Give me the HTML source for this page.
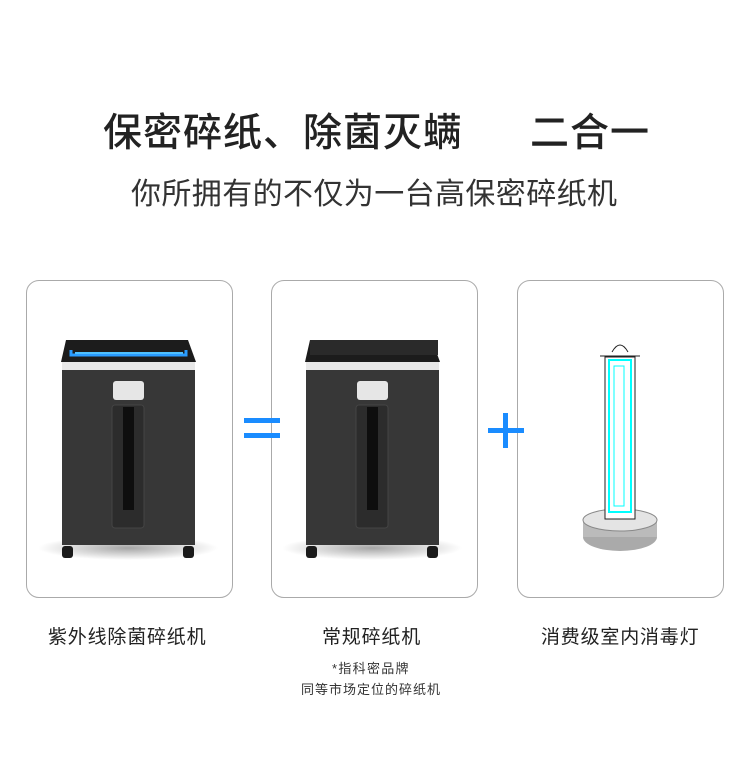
<!DOCTYPE html>
<html><head><meta charset="utf-8"><style>
body{margin:0;width:750px;height:768px;background:#fff;position:relative;font-family:"Liberation Sans","Noto Sans CJK SC",sans-serif;color:#222;overflow:hidden}
.a{position:absolute}
.card{position:absolute;top:280px;width:207px;height:318px;border:1px solid #aaa;border-radius:13px;box-sizing:border-box}
.t{position:absolute;white-space:nowrap}
.l{font-size:19px;letter-spacing:0.8px}
</style></head><body>
<div class="t" style="left:103px;top:102px;font-size:39px;font-weight:500;letter-spacing:1px">保密碎纸、除菌灭螨</div>
<div class="t" style="left:530px;top:102px;font-size:39px;font-weight:500;letter-spacing:1px">二合一</div>
<div class="t" style="left:131px;top:169px;font-size:30px;color:#333;letter-spacing:0.4px">你所拥有的不仅为一台高保密碎纸机</div>

<div class="card" style="left:26px"></div>
<div class="card" style="left:271px"></div>
<div class="card" style="left:517px"></div>

<svg class="a" style="left:0;top:0" width="750" height="768">
<defs><radialGradient id="sh" cx="50%" cy="50%" r="50%"><stop offset="0" stop-color="#000" stop-opacity=".35"/><stop offset="1" stop-color="#000" stop-opacity="0"/></radialGradient></defs>
<g id="s1">
<ellipse cx="128" cy="548" rx="90" ry="12" fill="url(#sh)"/>
<polygon points="66,340 188,340 196,362 61,362" fill="#1c1c1c"/>
<rect x="62" y="362" width="133" height="8" fill="#e8e8e8"/>
<rect x="62" y="370" width="133" height="175" fill="#373737"/>
<rect x="112" y="405" width="32" height="123" rx="3" fill="#2c2c2c" stroke="#444"/>
<rect x="123" y="407" width="11" height="103" fill="#0e0e0e"/>
<rect x="113" y="381" width="31" height="19" rx="3" fill="#e6e6e6"/>
<rect x="62" y="546" width="11" height="12" rx="3" fill="#1a1a1a"/>
<rect x="183" y="546" width="11" height="12" rx="3" fill="#1a1a1a"/>
</g>
<path d="M71,350 L71,355 L186,355 L186,350" fill="none" stroke="#2a9cff" stroke-width="3"/>
<rect x="75" y="352" width="108" height="2" fill="#4fc0ff"/>
<use href="#s1" x="244"/>
<rect x="310" y="340" width="128" height="15" fill="#2a2a2a"/>
<rect x="244" y="418" width="36" height="5" fill="#1a8cff"/>
<rect x="244" y="433" width="36" height="5" fill="#1a8cff"/>
<rect x="488" y="428" width="36" height="5" fill="#1a8cff"/>
<rect x="503" y="413" width="5" height="35" fill="#1a8cff"/>
<ellipse cx="620" cy="537" rx="37" ry="14" fill="#aaa"/>
<rect x="583" y="520" width="74" height="17" fill="#bbb"/>
<ellipse cx="620" cy="520" rx="37" ry="11" fill="#e4e4e4" stroke="#888"/>
<rect x="605" y="357" width="30" height="162" fill="#fff" stroke="#222"/>
<rect x="609" y="360" width="22" height="152" fill="none" stroke="#0ff" stroke-width="2"/>
<rect x="614" y="366" width="10" height="140" fill="none" stroke="#0ff"/>
<path d="M600,356 L640,356 M612,352 Q620,338 628,352" fill="none" stroke="#222"/>
</svg>

<div class="t l" style="left:48px;top:622px">紫外线除菌碎纸机</div>
<div class="t l" style="left:322px;top:622px">常规碎纸机</div>
<div class="t l" style="left:541px;top:622px">消费级室内消毒灯</div>
<div class="t" style="left:332px;top:658px;font-size:13px;letter-spacing:1.3px;color:#333">*指科密品牌</div>
<div class="t" style="left:301px;top:679px;font-size:13px;letter-spacing:1px;color:#333">同等市场定位的碎纸机</div>
</body></html>
